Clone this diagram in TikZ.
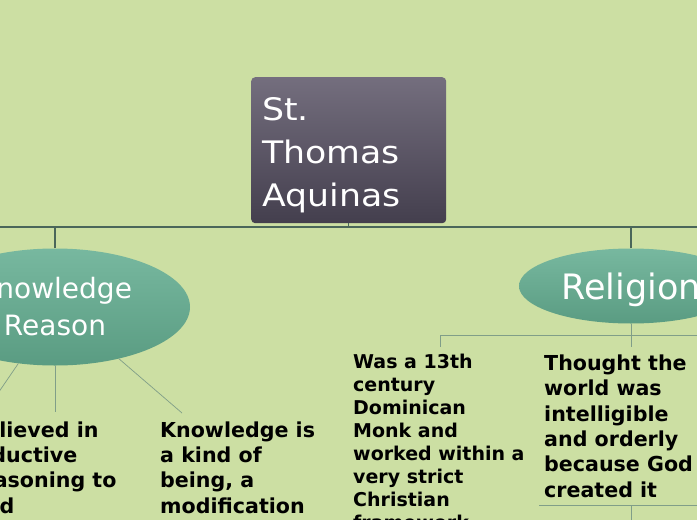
\documentclass[tikz,border=0pt]{standalone}
\usepackage{fontspec}
\setmainfont{DejaVu Sans}
\newfontfamily\titlefont[FakeStretch=1.12]{DejaVu Sans}
\usetikzlibrary{shapes.geometric}
\definecolor{bg}{RGB}{204,223,163}
\definecolor{busline}{RGB}{74,102,90}
\definecolor{thinline}{RGB}{128,158,136}
\definecolor{ttop}{RGB}{140,134,150}
\definecolor{tdark}{RGB}{60,55,70}
\definecolor{tbot}{RGB}{145,140,150}
\definecolor{etop}{RGB}{134,198,174}
\definecolor{edark}{RGB}{86,152,126}
\definecolor{ebot}{RGB}{118,186,160}
\pgfdeclareverticalshading{titleshade}{100bp}{color(0bp)=(tbot); color(8bp)=(tbot!45!tdark); color(17bp)=(tdark); color(100bp)=(ttop)}
\pgfdeclareverticalshading{ellshade}{100bp}{color(0bp)=(ebot); color(18bp)=(edark); color(100bp)=(etop)}
\tikzset{
  busl/.style={draw=busline, line width=1.4pt},
  thinl/.style={draw=thinline, line width=0.7pt},
  ell/.style={ellipse, shading=ellshade, text=white, align=center, inner sep=0pt},
  titlebox/.style={rectangle, rounded corners=4pt, shading=titleshade, inner sep=0pt, anchor=north west},
  titletxt/.style={text=white, align=left, inner sep=0pt, anchor=base west, font=\titlefont\fontsize{31}{43}\selectfont},
  body/.style={text=black, align=left, inner sep=0pt, anchor=base west, font=\bfseries\fontsize{20.6}{25.3}\selectfont},
  bodysmall/.style={text=black, align=left, inner sep=0pt, anchor=base west, font=\bfseries\fontsize{19}{23}\selectfont}
}
\begin{document}
\begin{tikzpicture}[x=1pt,y=-1pt]
\useasboundingbox (0,0) rectangle (697,520);
\fill[bg] (0,0) rectangle (697,520);
\clip (0,0) rectangle (697,520);

% title (base anchor = baseline of last line)
\node[titlebox, minimum width=195pt, minimum height=146pt] (title) at (251,77) {};
\node[titletxt] (titlelbl) at (262,206) {St.\\Thomas\\Aquinas};

% main ellipses
\node[ell, minimum width=270pt, minimum height=117pt, font=\fontsize{28}{37}\selectfont] (know) at (55,307) {Knowledge\\Reason};
\node[ell, minimum width=224pt, minimum height=75pt, text depth=0pt, font=\fontsize{35}{40}\selectfont] (relig) at (631,286) {Religion};

% bus
\coordinate (busL) at (0,227);
\coordinate (busR) at (697,227);
\draw[busl] (busL) -- (busR);
\draw[busl] (title.south) -- (title.south |- busL);
\draw[busl] (know.north) -- (know.north |- busL);
\draw[busl] (relig.north) -- (relig.north |- busL);

% knowledge children
\node[body] (k1) at (-30.5,513) {Believed in\\inductive\\reasoning to\\find};
\node[body] (k3) at (160,513) {Knowledge is\\a kind of\\being, a\\modification};
\coordinate (k1top) at (-8,402);
\coordinate (k2top) at (55,412);
\coordinate (k3top) at (182,413);
\draw[thinl] (know.-123.5) -- (k1top);
\draw[thinl] (know.south) -- (k2top);
\draw[thinl] (know.-39) -- (k3top);

% religion children
\node[bodysmall] (r1) at (353,529) {Was a 13th\\century\\Dominican\\Monk and\\worked within a\\very strict\\Christian\\framework};
\node[body] (r2) at (544,497) {Thought the\\world was\\intelligible\\and orderly\\because God\\created it};
\coordinate (rb1) at (440,335);
\coordinate (rb2) at (697,335);
\coordinate (r1top) at (440,347);
\coordinate (r2top) at (631,347);
\draw[thinl] (rb1) -- (rb2);
\draw[thinl] (rb1) -- (r1top);
\draw[thinl] (relig.south) -- (r2top);
\coordinate (rb3) at (539,505);
\coordinate (rb4) at (697,505);
\coordinate (rb5) at (631,505);
\coordinate (rb6) at (631,520);
\draw[thinl] (rb3) -- (rb4);
\draw[thinl] (rb5) -- (rb6);
\end{tikzpicture}
\end{document}
